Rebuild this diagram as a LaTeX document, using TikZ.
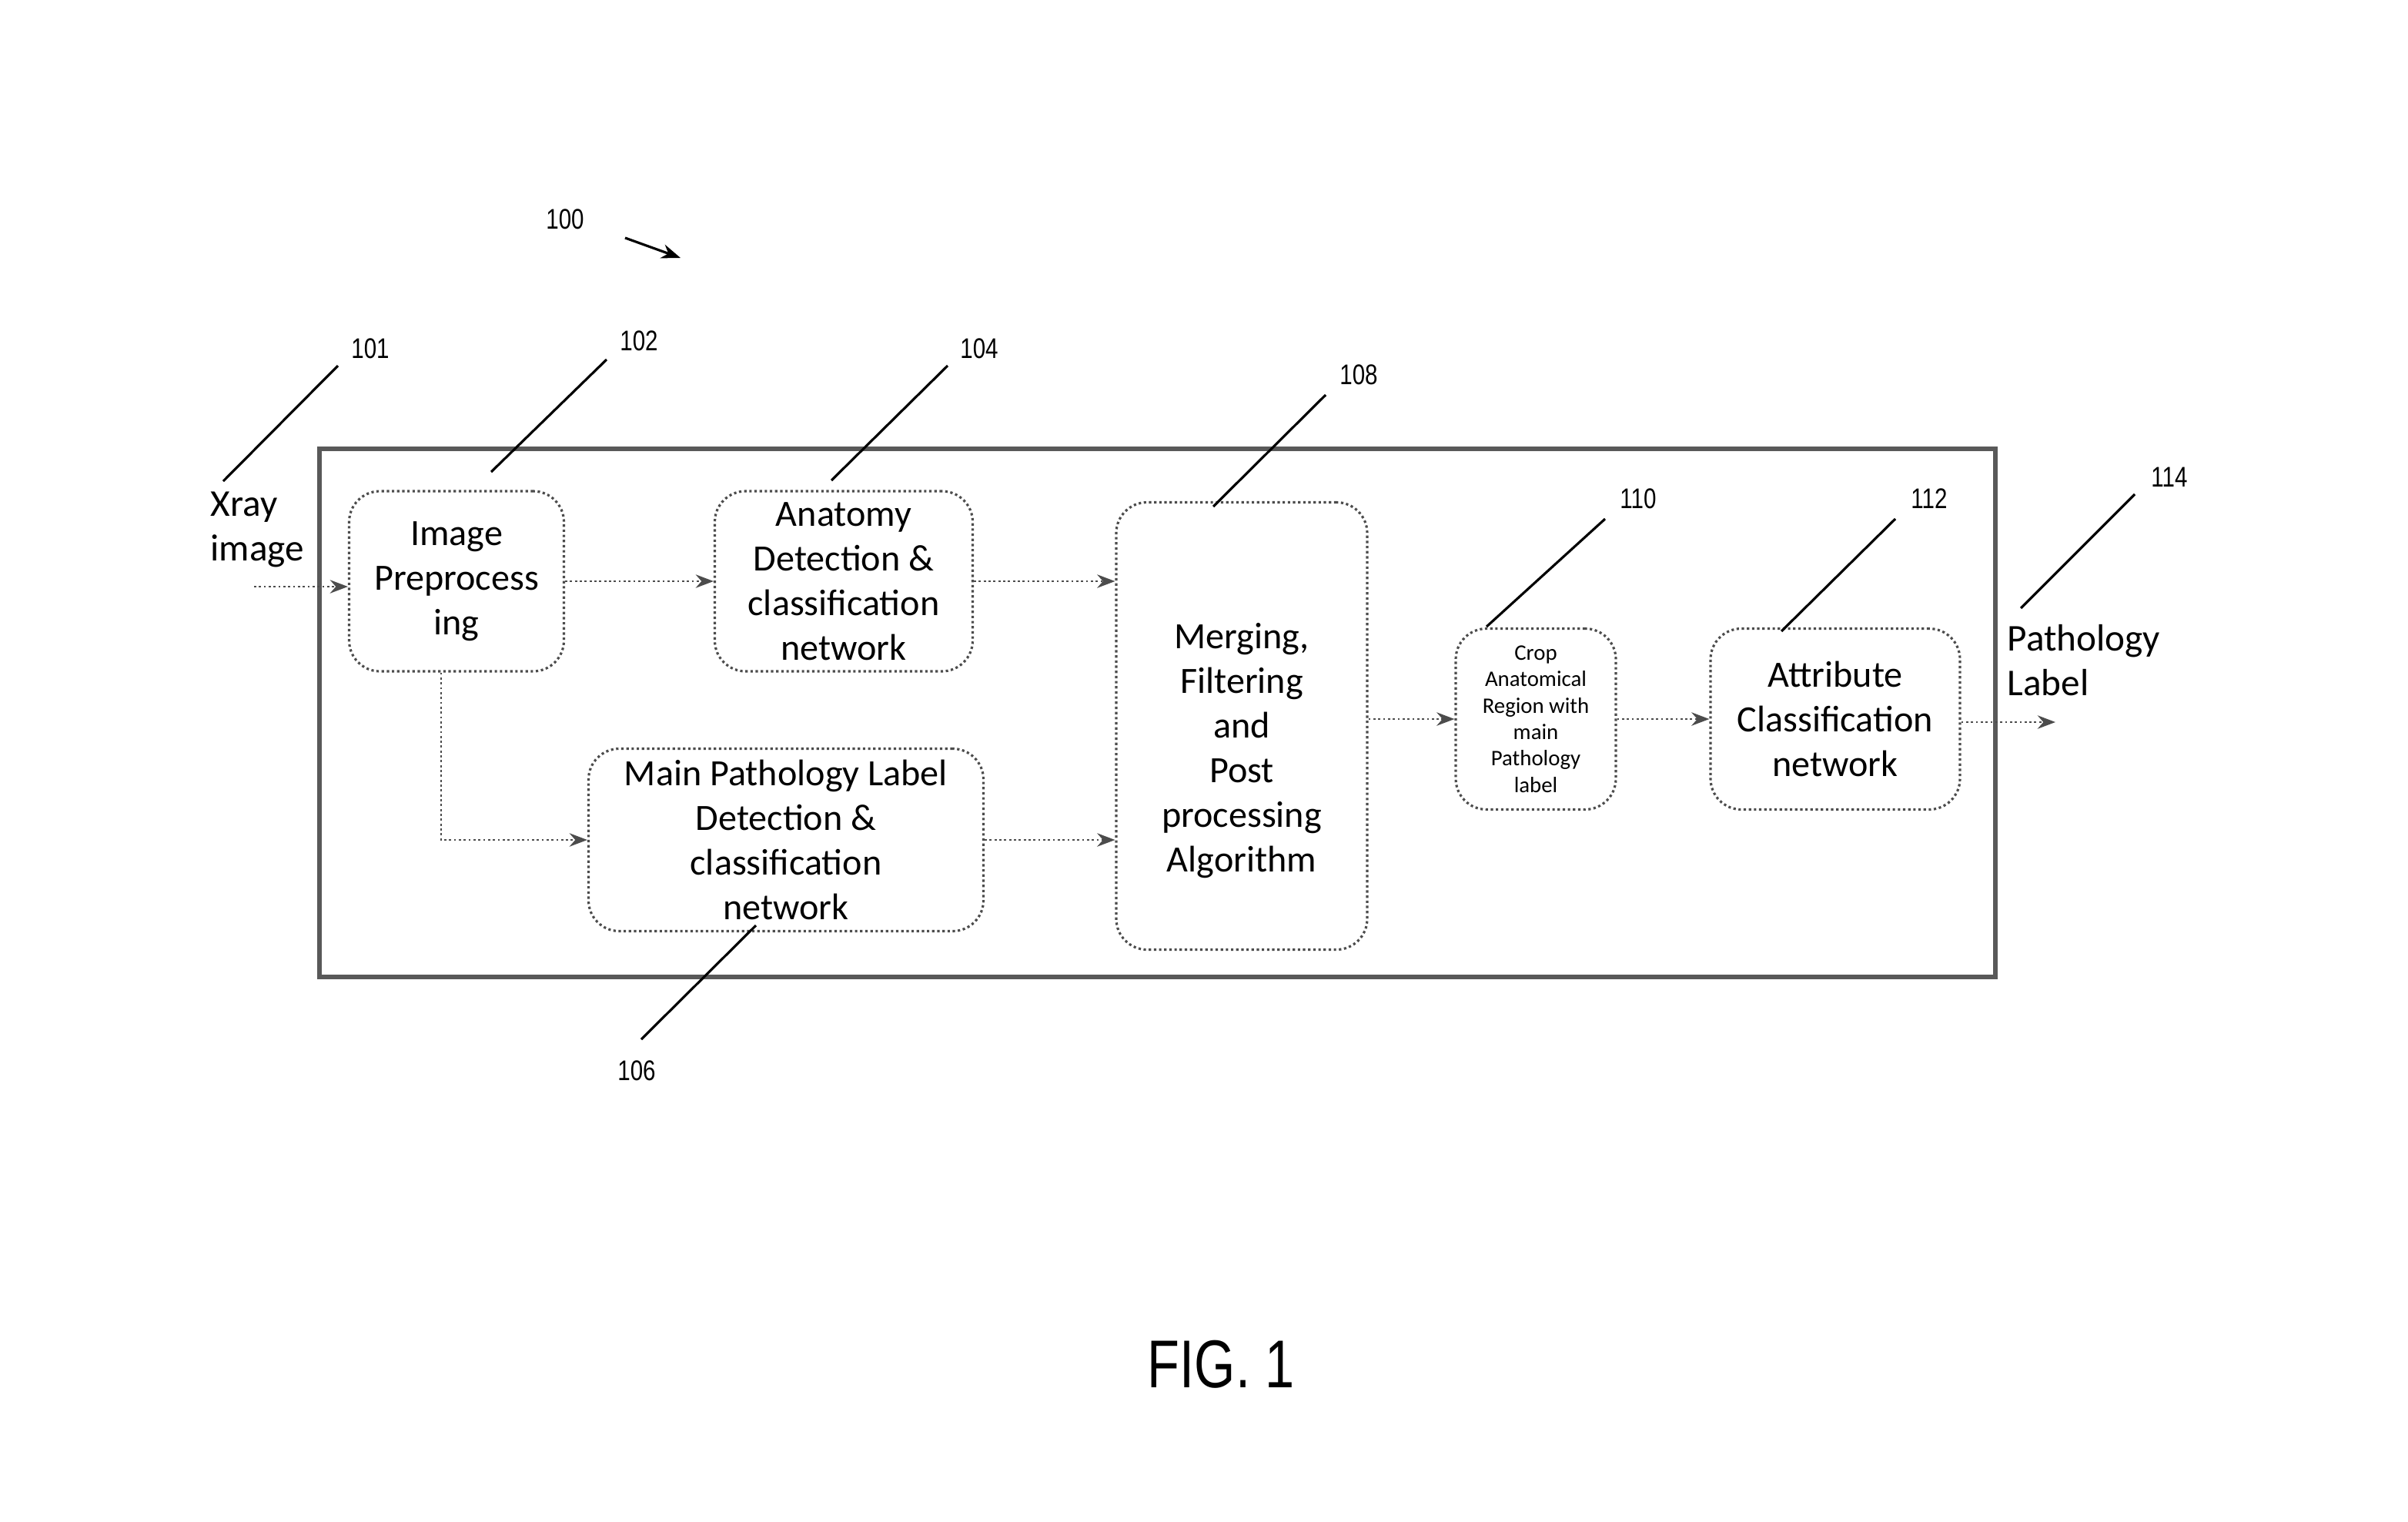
\documentclass[tikz,border=0pt]{standalone}
\usepackage{fontspec}
\setmainfont{Carlito}
\newfontfamily\numfont[FakeStretch=0.8]{Liberation Sans}
\newfontfamily\figfont[FakeStretch=0.78]{Liberation Sans}
\usetikzlibrary{arrows.meta,positioning,calc}

\begin{document}
\begin{tikzpicture}[>=Stealth,
  blk/.style={draw=black!70,densely dotted,line width=0.9pt,rounded corners=4mm,
    align=center,inner sep=0pt,font=\fontsize{13.7}{16.5}\selectfont},
  io/.style={align=left,anchor=west,inner sep=0pt,font=\fontsize{14}{16.5}\selectfont},
  conn/.style={->,draw=black!70,densely dotted,line width=0.8pt},
  ldr/.style={line width=0.9pt},
  refnum/.style={font=\numfont\fontsize{10.5}{12}\selectfont}]
\useasboundingbox (0,0) rectangle (31.28,-19.77);
% outer frame
\draw[black!65,line width=1.7pt] (4.15,-5.83) rectangle (25.92,-12.69);
% blocks
\node[blk,minimum width=2.79cm,minimum height=2.34cm] (pre) at(5.93,-7.55){Image\\Preprocess\\ing};
\node[blk,minimum width=3.35cm,minimum height=2.34cm] (anat) at(10.96,-7.55){Anatomy\\Detection \&\\classification\\network};
\node[blk,minimum width=5.13cm,minimum height=2.37cm] (path) at(10.21,-10.91){Main Pathology Label\\Detection \&\\classification\\network};
\node[blk,minimum width=3.26cm,minimum height=5.81cm] (merge) at(16.13,-9.43){{}\\[0.4cm]Merging,\\Filtering\\and\\Post\\processing\\Algorithm};
\node[blk,minimum width=2.08cm,minimum height=2.35cm,font=\fontsize{8.2}{9.8}\selectfont] (crop) at(19.95,-9.34){Crop\\Anatomical\\Region with\\main\\Pathology\\label};
\node[blk,minimum width=3.24cm,minimum height=2.35cm] (attr) at(23.84,-9.34){Attribute\\Classification\\network};
% input / output
\node[io] (xray) at(2.73,-6.88){Xray\\image};
\node[io] (out) at(26.07,-8.58){Pathology\\Label};
\coordinate (xin) at(3.30,-7.62);
\coordinate (pend) at(26.70,-9.38);
% connectors
\draw[conn](xin)--(xin -| pre.west);
\draw[conn](pre)--(anat);
\draw[conn](anat.east)--(anat.east -| merge.west);
\draw[conn]($(pre.south)+(-0.2,0)$)|-(path.west);
\draw[conn](path.east)--(path.east -| merge.west);
\draw[conn](crop.west -| merge.east)--(crop.west);
\draw[conn](crop)--(attr);
\draw[conn](attr.east |- pend)--(pend);
% reference numerals
\node[refnum] (n100) at(7.34,-2.85){100};
\coordinate (a100) at(8.12,-3.09);\coordinate (b100) at(8.84,-3.35);
\draw[->,line width=0.9pt](a100)--(b100);
\node[refnum] (n101) at(4.81,-4.53){101};
\coordinate (a101) at(2.90,-6.25);\coordinate (b101) at(4.39,-4.75);
\draw[ldr](a101)--(b101);
\node[refnum] (n102) at(8.30,-4.43){102};
\coordinate (a102) at(6.38,-6.13);\coordinate (b102) at(7.88,-4.67);
\draw[ldr](a102)--(b102);
\node[refnum] (n104) at(12.72,-4.53){104};
\coordinate (a104) at(10.80,-6.24);\coordinate (b104) at(12.31,-4.75);
\draw[ldr](a104)--(b104);
\node[refnum] (n108) at(17.65,-4.87){108};
\coordinate (a108) at(15.76,-6.58);\coordinate (b108) at(17.22,-5.13);
\draw[ldr](a108)--(b108);
\node[refnum] (n110) at(21.28,-6.48){110};
\coordinate (a110) at(19.31,-8.14);\coordinate (b110) at(20.85,-6.74);
\draw[ldr](a110)--(b110);
\node[refnum] (n112) at(25.06,-6.48){112};
\coordinate (a112) at(23.14,-8.20);\coordinate (b112) at(24.62,-6.74);
\draw[ldr](a112)--(b112);
\node[refnum] (n114) at(28.18,-6.20){114};
\coordinate (a114) at(26.25,-7.90);\coordinate (b114) at(27.73,-6.42);
\draw[ldr](a114)--(b114);
\node[refnum] (n106) at(8.27,-13.91){106};
\coordinate (a106) at(9.82,-12.02);\coordinate (b106) at(8.33,-13.50);
\draw[ldr](a106)--(b106);
% caption
\node[font=\figfont\fontsize{25}{30}\selectfont] (fig) at(15.86,-17.72){FIG. 1};
\end{tikzpicture}
\end{document}
